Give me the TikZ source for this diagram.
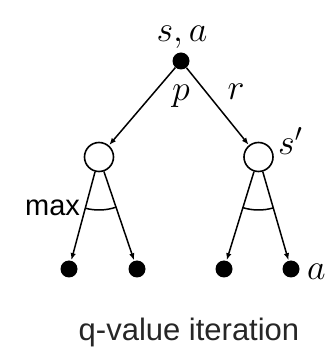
\RequirePackage{fix-cm}
\documentclass[tikz,border=0pt]{standalone}
\usepackage{fontspec}
\newfontfamily\capfont{Liberation Sans}
\usetikzlibrary{arrows.meta}
\tikzset{
  edge/.style={line width=1.5pt, -{Latex[length=7pt,width=5.5pt]}, shorten >=0.5pt},
  chance/.style={circle, draw, line width=1.6pt, minimum size=29pt, inner sep=0pt, fill=white},
  dot/.style={circle, fill=black, minimum size=17pt, inner sep=0pt},
  mlabel/.style={font=\fontsize{36}{40}\selectfont, inner sep=0pt},
  slabel/.style={font=\capfont\fontsize{29}{32}\selectfont, inner sep=0pt},
  arcline/.style={line width=1.5pt}
}
\begin{document}
\begin{tikzpicture}[x=1pt,y=1pt]
\useasboundingbox (0,0) rectangle (326,348);
\node[dot] (top) at (181,287) {};
\node[chance] (c1) at (99,191) {};
\node[chance] (c2) at (258.5,191) {};
\node[dot] (d1) at (69,79) {};
\node[dot] (d2) at (137,79) {};
\node[dot] (d3) at (224,79) {};
\node[dot] (d4) at (291,79) {};
\draw[edge] (top) -- (c1);
\draw[edge] (top) -- (c2);
\draw[edge] (c1) -- (d1);
\draw[edge] (c1) -- (d2);
\draw[edge] (c2) -- (d3);
\draw[edge] (c2) -- (d4);
\draw[arcline] (c1.center) ++(254.9:53) arc[start angle=254.9, end angle=288.8, radius=53];
\draw[arcline] (c2.center) ++(252.8:53) arc[start angle=252.8, end angle=286.1, radius=53];
\node[mlabel, anchor=base] (sa) at (182,306) {$s,a$};
\node[mlabel, anchor=base] (p) at (181,247) {$p$};
\node[mlabel, anchor=base] (r) at (236,248) {$r$};
\node[mlabel, anchor=base west] (sp) at (278,193) {$s'$};
\node[mlabel, anchor=base west] (aa) at (307,68) {$a$};
\node[slabel, anchor=base] (mx) at (52.5,132) {max};
\node[font=\capfont\fontsize{31}{34}\selectfont, inner sep=0pt, anchor=base, text=black!85] (cap) at (189,7) {q-value iteration};
\end{tikzpicture}
\end{document}
